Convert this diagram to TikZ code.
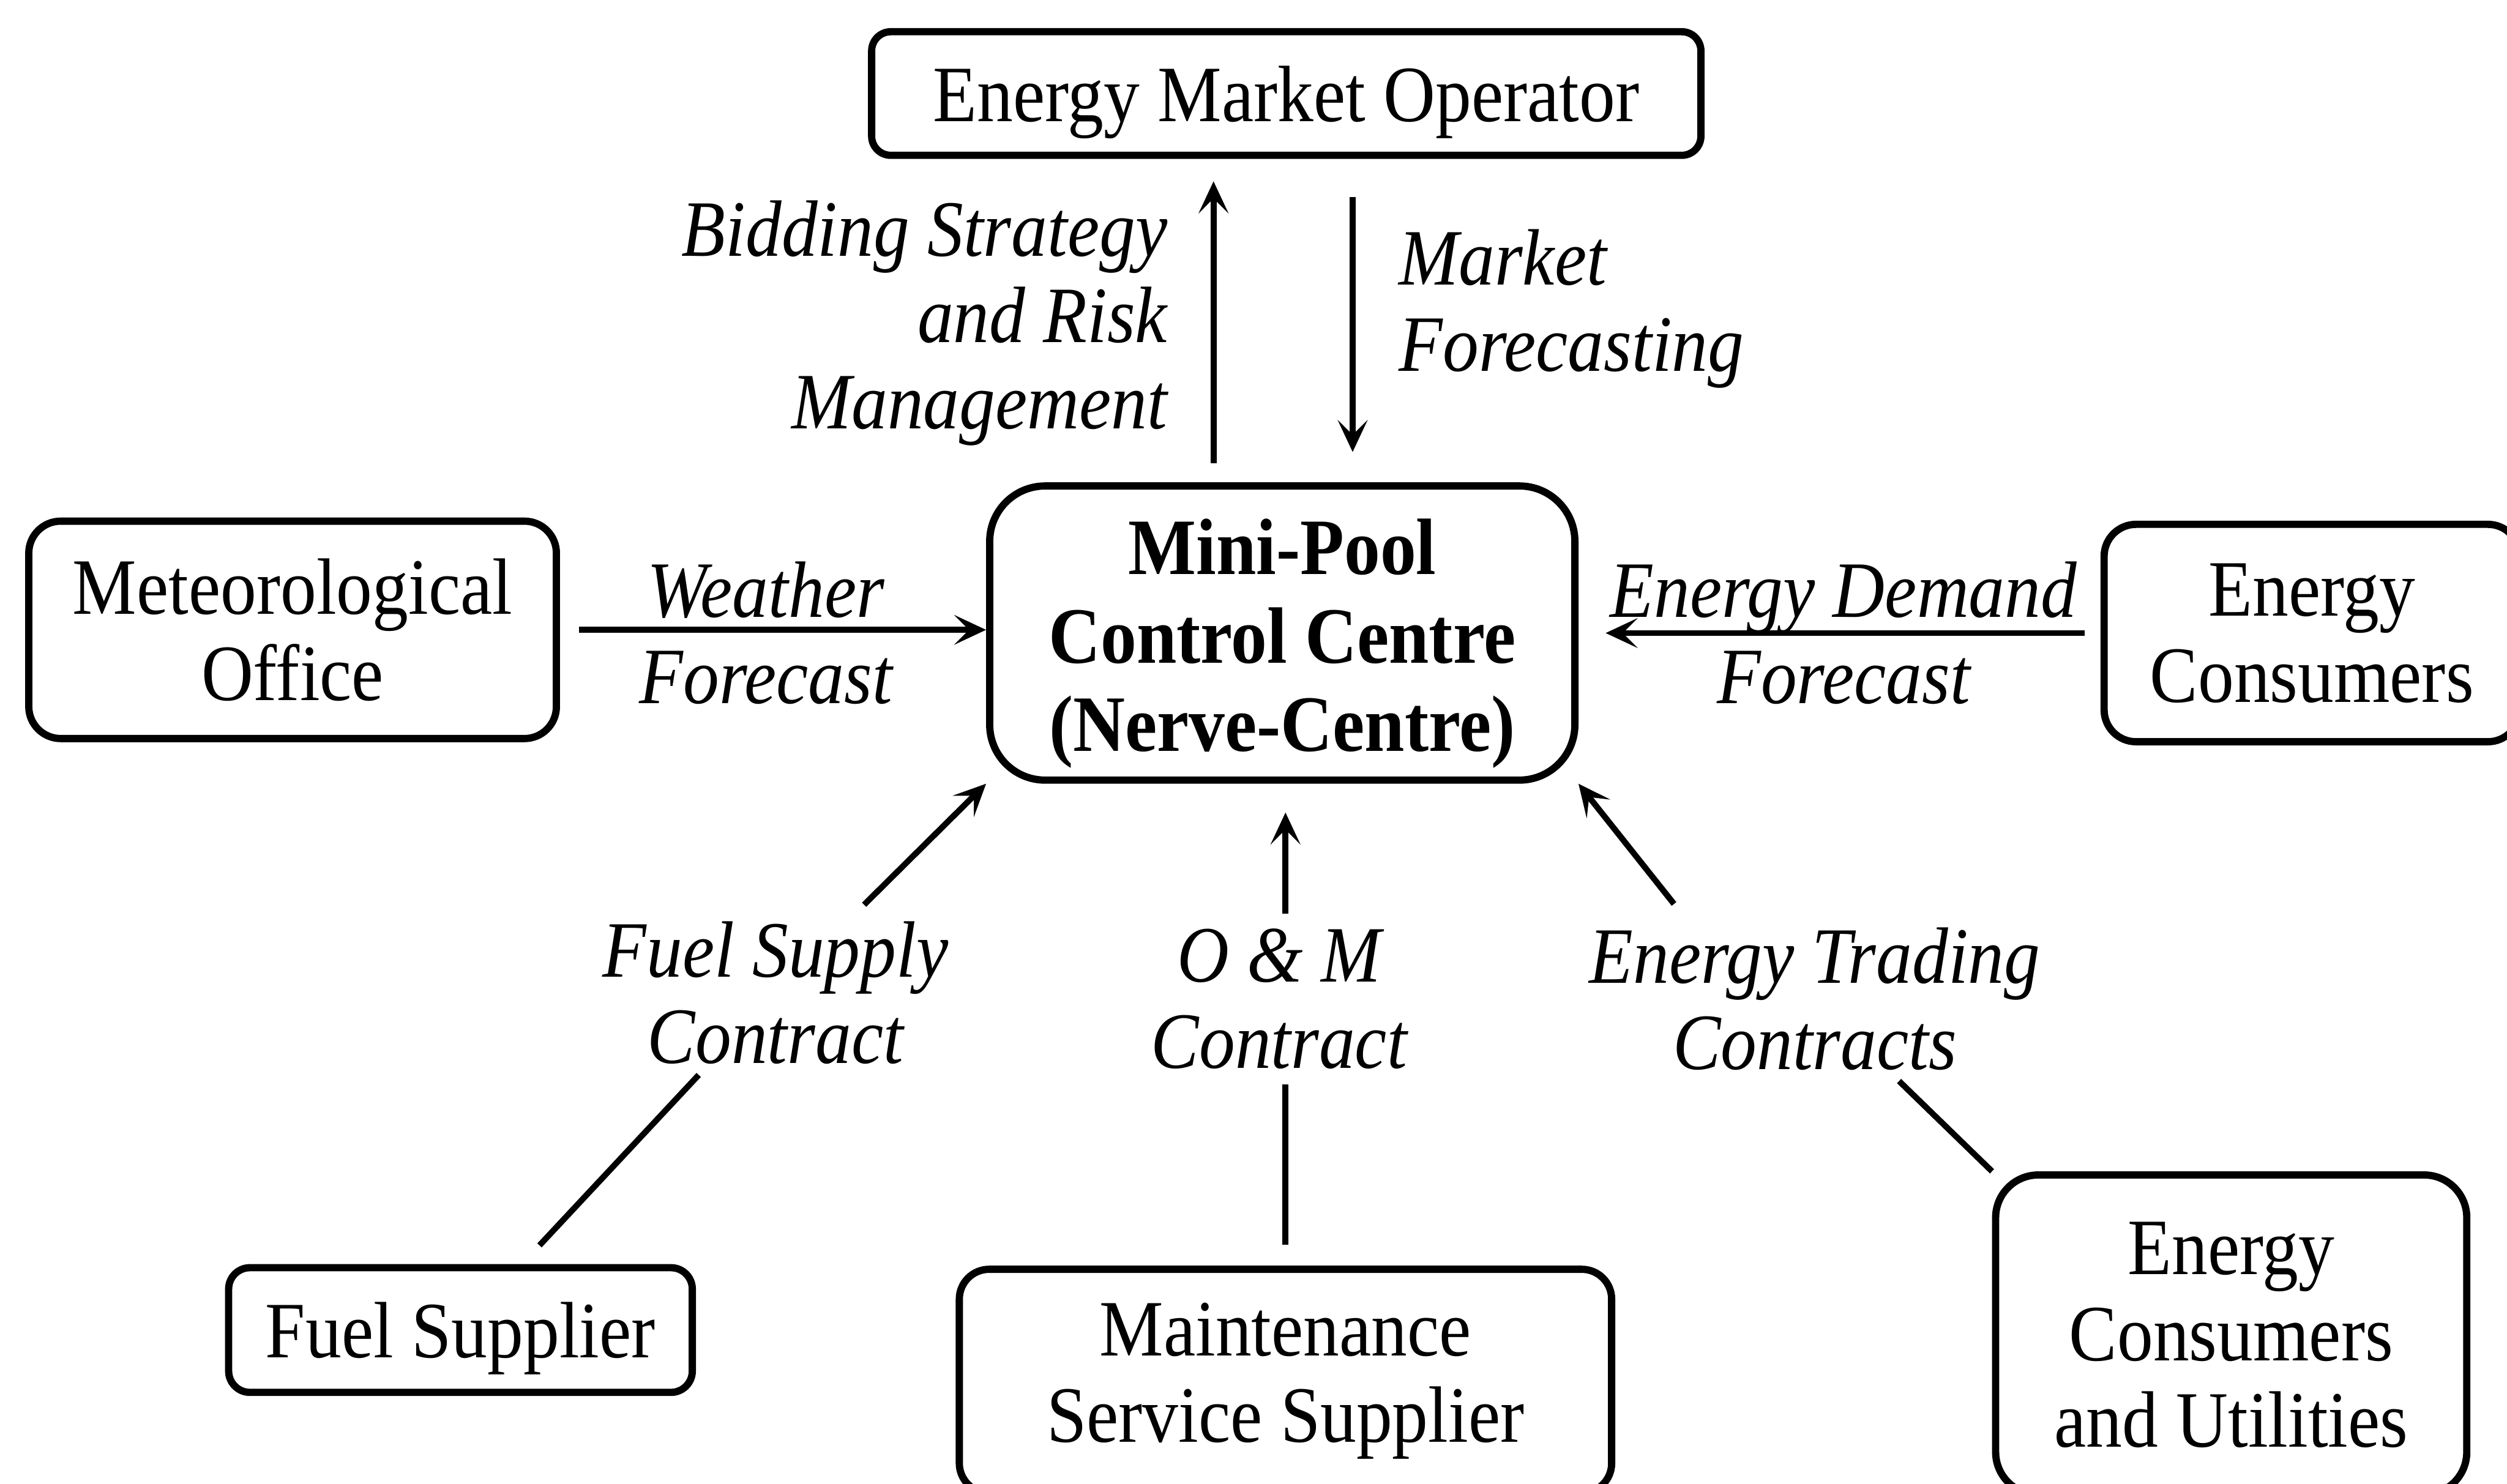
\documentclass[tikz,border=0pt]{standalone}
\usepackage{fontspec}
\setmainfont{Liberation Serif}[FakeStretch=0.9]
\usetikzlibrary{arrows.meta,calc}

\newcommand{\figfont}{\fontsize{37.5}{40.5}\selectfont}

\begin{document}
\begin{tikzpicture}[x=0.75pt,y=0.75pt,yscale=-1,xscale=1,
  box/.style={draw, line width=3.4pt, align=center, inner sep=0pt, font=\figfont},
  lbl/.style={font=\figfont\itshape, align=center, inner sep=2pt},
  flow/.style={line width=2.8pt, -{Stealth[length=15pt,width=14pt,inset=7pt]}},
  link/.style={line width=2.8pt}]
%set diagram frame: 1568 x 928
\useasboundingbox (0,0) rectangle (1568,928);

%Rounded Rect [emo]
\node[box, rounded corners=9pt, minimum width=389pt, minimum height=58pt, text depth=0pt] (emo) at (804.5,58.5) {Energy Market Operator};
%Rounded Rect [hub]
\node[box, rounded corners=26pt, minimum width=274.5pt, minimum height=138pt, font=\figfont\bfseries] (hub) at (802,396) {\rule{0pt}{36pt}Mini-Pool\\[1pt]Control Centre\\[1pt](Nerve-Centre)};
%Rounded Rect [met]
\node[box, rounded corners=15pt, minimum width=247.5pt, minimum height=102pt] (met) at (183,394) {Meteorological\\Office};
%Rounded Rect [cons]
\node[box, rounded corners=15pt, minimum width=195pt, minimum height=102pt] (cons) at (1446,396) {Energy\\Consumers};
%Rounded Rect [fuel]
\node[box, rounded corners=10pt, minimum width=217.5pt, minimum height=58.5pt, text depth=0pt] (fuel) at (288,832) {Fuel Supplier};
%Rounded Rect [mss]
\node[box, rounded corners=14pt, minimum width=306pt, minimum height=105pt] (mss) at (804,864) {Maintenance\\Service Supplier};
%Rounded Rect [ecu]
\node[box, rounded corners=20pt, minimum width=221pt, minimum height=150pt] (ecu) at (1395.5,835) {Energy\\Consumers\\and Utilities};

% Text Node
\node[lbl, anchor=east, align=right] (bid) at (733,202) {Bidding Strategy\\and Risk\\Management};
% Text Node
\node[lbl, anchor=west, align=left] (mkt) at (872,193) {Market\\Forecasting};
% Text Node
\node[lbl] (wx) at (479,396) {Weather\\Forecast};
% Text Node
\node[lbl] (dem) at (1153,396) {Energy Demand\\Forecast};
% Text Node
\node[lbl] (fsc) at (485,621) {Fuel Supply\\Contract};
% Text Node
\node[lbl] (omc) at (800,625) {O \& M\\Contract};
% Text Node
\node[lbl] (etc) at (1135,625) {Energy Trading\\Contracts};

%Straight Lines [market operator]
\draw[flow] ($(hub.north)+(-43,-12)$) -- ($(emo.south)+(-45.5,14)$);
\draw[flow] ($(emo.south)+(41.5,24)$) -- ($(hub.north)+(44,-19)$);
%Straight Lines [forecasts]
\draw[flow, shorten <=9pt] (met.east) -- (met.east -| hub.west);
\draw[flow, shorten <=7.5pt, shorten >=12.75pt] (cons.west) -- (cons.west -| hub.east);
%Straight Lines [fuel]
\draw[link, shorten <=12pt, shorten >=4pt] (fuel) -- (fsc);
\draw[flow, shorten <=8pt] (fsc) -- (hub.south west);
%Straight Lines [o&m]
\draw[link, shorten <=9.75pt, shorten >=5pt] (mss.north) -- (mss.north |- omc.south);
\draw[flow, shorten <=5pt, shorten >=13.5pt] (mss.north |- omc.north) -- (mss.north |- hub.south);
%Straight Lines [trading]
\draw[link, shorten >=4pt] (ecu.north west) -- (etc);
\draw[flow] ($(etc.north)+(-88,-12)$) -- (hub.south east);

\end{tikzpicture}
\end{document}
